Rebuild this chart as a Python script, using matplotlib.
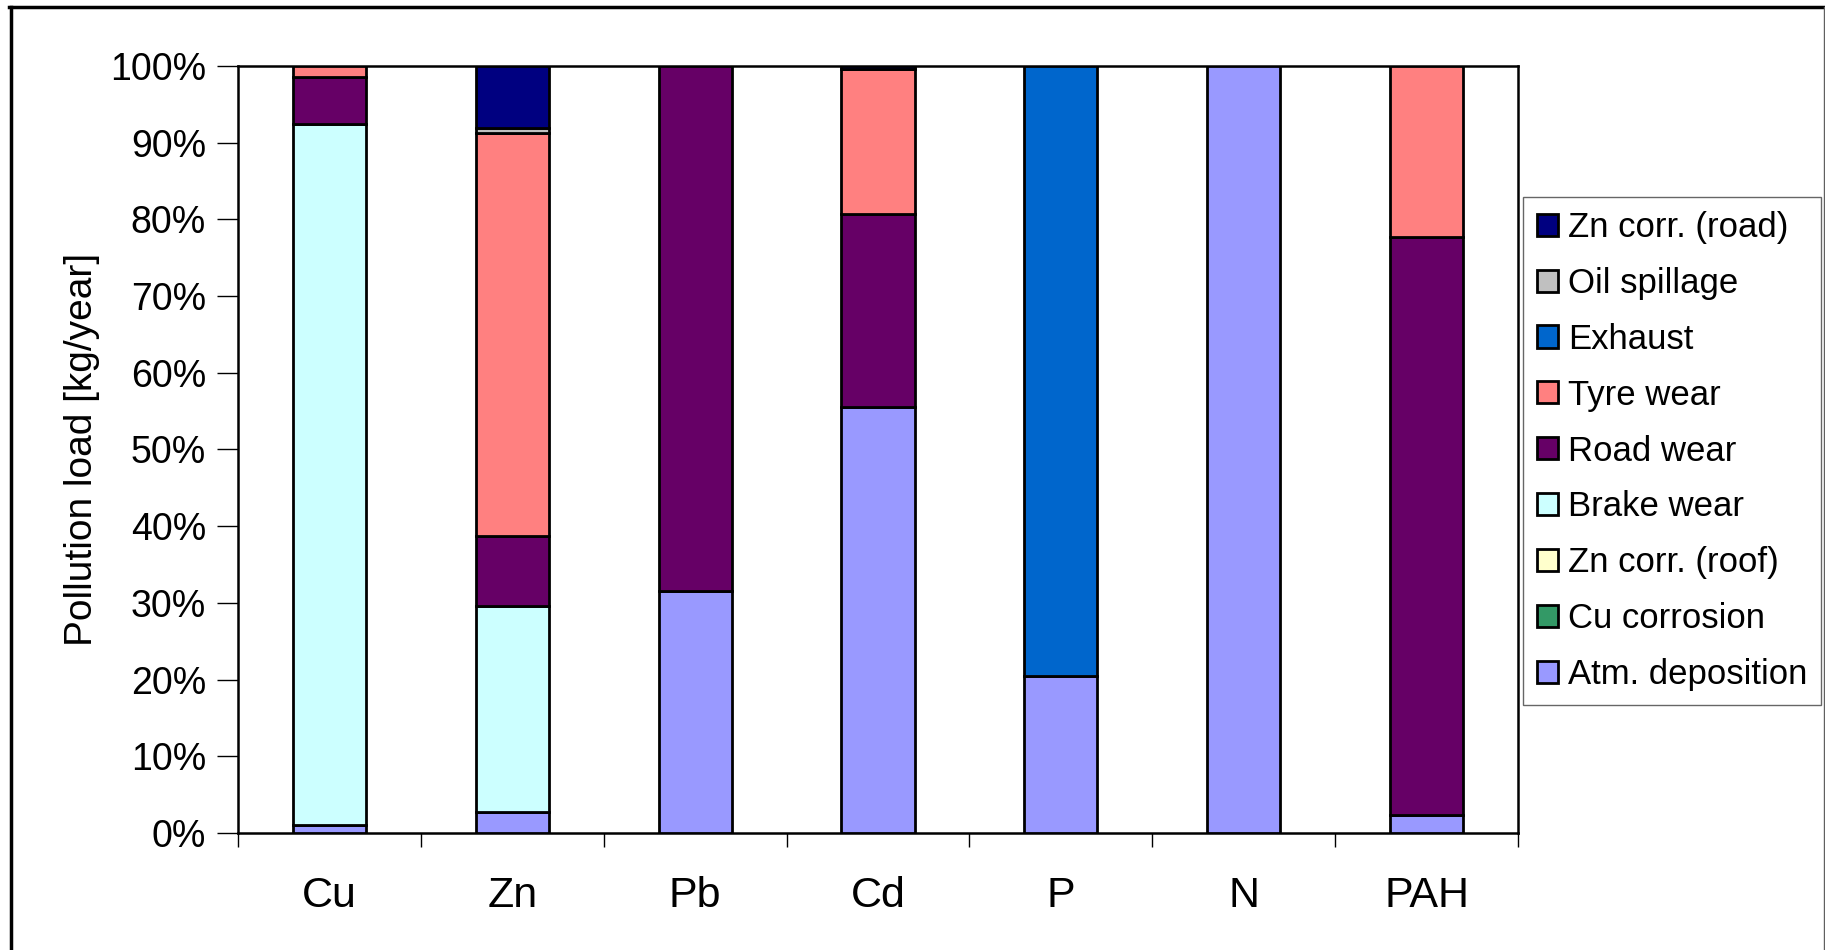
import numpy as np
import matplotlib
matplotlib.use("Agg")
import matplotlib.pyplot as plt
from matplotlib.patches import Patch
from matplotlib.lines import Line2D
from matplotlib.ticker import FixedLocator

plt.rcParams["font.family"] = ["Liberation Sans", "DejaVu Sans"]

# categories and source shares (% of yearly load), bottom -> top of stack
categories = ["Cu", "Zn", "Pb", "Cd", "P", "N", "PAH"]
atm_deposition = [1.1, 2.7, 31.6, 55.5, 20.5, 100.0, 2.3]
cu_corrosion = [0, 0, 0, 0, 0, 0, 0]
zn_corr_roof = [0, 0, 0, 0, 0, 0, 0]
brake_wear = [91.4, 26.9, 0, 0, 0, 0, 0]
road_wear = [6.1, 9.1, 68.4, 25.2, 0, 0, 75.4]
tyre_wear = [1.4, 52.5, 0, 18.9, 0, 0, 22.3]
exhaust = [0, 0, 0, 0, 79.5, 0, 0]
oil_spillage = [0, 0.7, 0, 0, 0, 0, 0]
zn_corr_road = [0, 8.1, 0, 0.4, 0, 0, 0]

series = [
    ("Atm. deposition", atm_deposition, "#9999FF"),
    ("Cu corrosion", cu_corrosion, "#339966"),
    ("Zn corr. (roof)", zn_corr_roof, "#FFFFCC"),
    ("Brake wear", brake_wear, "#CCFFFF"),
    ("Road wear", road_wear, "#660066"),
    ("Tyre wear", tyre_wear, "#FF8080"),
    ("Exhaust", exhaust, "#0066CC"),
    ("Oil spillage", oil_spillage, "#C0C0C0"),
    ("Zn corr. (road)", zn_corr_road, "#000080"),
]

W, H = 1825, 950
fig = plt.figure(figsize=(W / 100, H / 100), dpi=100)
ax = fig.add_axes([238 / W, 1 - 833 / H, (1518 - 238) / W, (833 - 66) / H])

x = np.arange(len(categories))
bottom = np.zeros(len(categories))
handles = []
for name, vals, col in series:
    vals = np.array(vals, dtype=float)
    keep = vals > 0
    if keep.any():
        ax.bar(x[keep], vals[keep], width=0.4, bottom=bottom[keep], color=col,
               edgecolor="black", linewidth=2.0, zorder=3)
    bottom += vals
    handles.append(Patch(facecolor=col, edgecolor="black", linewidth=2.0, label=name))

ax.set_xlim(-0.5, len(categories) - 0.5)
ax.set_ylim(0, 100)
ax.set_yticks(np.arange(0, 101, 10))
ax.set_yticklabels([f"{v}%" for v in range(0, 101, 10)], fontsize=27)
ax.tick_params(axis="y", direction="out", length=15, width=1, pad=8)

# tick marks between categories, labels centred under the bars
ax.xaxis.set_major_locator(FixedLocator(np.arange(-0.5, len(categories), 1.0)))
ax.xaxis.set_minor_locator(FixedLocator(x))
ax.set_xticklabels([], minor=False)
ax.set_xticklabels(categories, minor=True, fontsize=31)
ax.tick_params(axis="x", which="major", direction="out", length=10, width=1)
ax.tick_params(axis="x", which="minor", length=0, pad=31)

ax.set_ylabel("Pollution load [kg/year]", fontsize=28, labelpad=7)
for s in ax.spines.values():
    s.set_linewidth(1.8)

leg = fig.legend(handles=handles[::-1], loc="upper left",
                 bbox_to_anchor=(1523 / W, 1 - 197 / H), fontsize=25,
                 frameon=True, fancybox=False, edgecolor="#404040",
                 handlelength=0.6, handleheight=0.6, handletextpad=0.3,
                 labelspacing=0.66, borderpad=0.4, borderaxespad=0)
leg.get_frame().set_linewidth(1.0)

# outer chart frame
fig.add_artist(Line2D([10.5 / W, 10.5 / W], [0, 1 - 6.5 / H], color="black", lw=2.5))
fig.add_artist(Line2D([9 / W, 1], [1 - 6.5 / H, 1 - 6.5 / H], color="black", lw=2.5))
fig.add_artist(Line2D([1823.5 / W, 1823.5 / W], [0, 1 - 6.5 / H], color="#606060", lw=1))

fig.savefig("out.png", dpi=100)
